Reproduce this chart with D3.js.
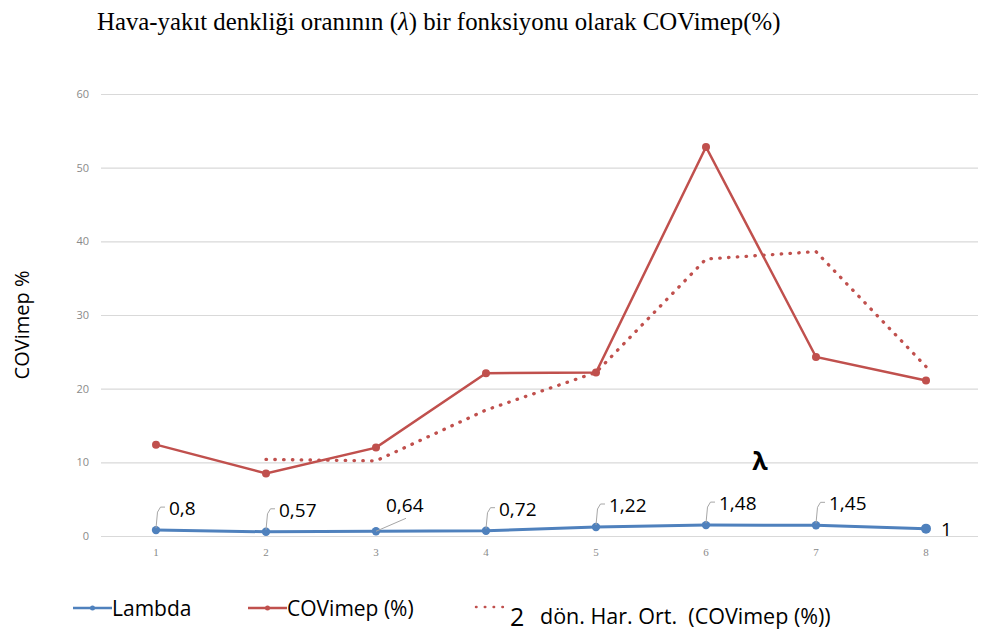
<!DOCTYPE html>
<html>
<head>
<meta charset="utf-8">
<script src="https://cdn.jsdelivr.net/npm/d3@7"></script>
<style>
  body { margin: 0; background: #fff; }
  #chart { width: 982px; height: 637px; }
  text { font-family: "Open Sans", "Liberation Sans", sans-serif; }
</style>
</head>
<body>
<div id="chart"></div>
<script>
/* DATA */
const categories = [1, 2, 3, 4, 5, 6, 7, 8];
const lambda = [0.8, 0.57, 0.64, 0.72, 1.22, 1.48, 1.45, 1];
const lambdaLabels = ["0,8", "0,57", "0,64", "0,72", "1,22", "1,48", "1,45", "1"];
const covimep = [12.4, 8.5, 12.0, 22.1, 22.2, 52.8, 24.3, 21.1];
const movingAvg = [null, 10.4, 10.2, 17.1, 22.2, 37.6, 38.6, 23.0];
const yTicks = [0, 10, 20, 30, 40, 50, 60];

const width = 982, height = 637;
const margin = {top: 94, left: 101, right: 1, bottom: 101};
const gridRight = 978;
const blue = "#4f81bd", red = "#c0504d";

const svg = d3.select("#chart")
    .append("svg")
    .attr("width", width)
    .attr("height", height);

/* SCALES */
const xScale = d3.scaleBand()
    .domain(categories)
    .range([margin.left, width - margin.right]);

const cx = function(d) { return xScale(d) + xScale.bandwidth() / 2; };

const yScale = d3.scaleLinear()
    .domain([0, 60])
    .range([height - margin.bottom, margin.top]);

/* TITLE */
const title = svg.append("text")
    .attr("x", 97)
    .attr("y", 30)
    .style("font-family", "'Liberation Serif', 'Times New Roman', serif")
    .style("font-size", "24.8px")
    .attr("fill", "#000");
title.append("tspan").text("Hava-yakıt denkliği oranının (");
title.append("tspan").style("font-style", "italic").text("λ");
title.append("tspan").text(") bir fonksiyonu olarak COVimep(%)");

/* GRID + Y AXIS */
const yAxis = svg.append("g")
    .attr("transform", `translate(${margin.left},0)`)
    .call(d3.axisLeft(yScale)
        .tickValues(yTicks)
        .tickSize(-(gridRight - margin.left))
        .tickPadding(12));
yAxis.select(".domain").remove();
yAxis.selectAll(".tick line").attr("stroke", "#d9d9d9").attr("stroke-width", 1.2);
yAxis.selectAll(".tick text")
    .attr("fill", "#8a8a8a")
    .style("font-size", "11px");

/* X AXIS */
const xAxis = svg.append("g")
    .attr("transform", `translate(0,${height - margin.bottom})`)
    .call(d3.axisBottom(xScale).tickSize(0).tickPadding(12));
xAxis.select(".domain").remove();
xAxis.selectAll(".tick text")
    .attr("fill", "#8a8a8a")
    .style("font-family", "'Liberation Serif', serif")
    .style("font-size", "11px");

/* Y AXIS LABEL */
svg.append("text")
    .attr("transform", "rotate(-90)")
    .attr("x", -325)
    .attr("y", 29)
    .attr("text-anchor", "middle")
    .style("font-size", "20px")
    .attr("fill", "#000")
    .text("COVimep %");

/* LINES */
const line = d3.line()
    .defined(function(d) { return d.v != null; })
    .x(function(d) { return cx(d.c); })
    .y(function(d) { return yScale(d.v); });

const zip = function(vals) {
    return categories.map(function(c, i) { return {c: c, v: vals[i], i: i}; });
};

svg.append("path")
    .datum(zip(movingAvg))
    .attr("d", line)
    .attr("fill", "none")
    .attr("stroke", red)
    .attr("stroke-width", 3.3)
    .attr("stroke-linecap", "round")
    .attr("stroke-dasharray", "0.5 8.3");

svg.append("path")
    .datum(zip(covimep))
    .attr("d", line)
    .attr("fill", "none")
    .attr("stroke", red)
    .attr("stroke-width", 2.5);

svg.selectAll("circle.cov")
    .data(zip(covimep))
    .enter()
    .append("circle")
        .attr("class", "cov")
        .attr("cx", function(d) { return cx(d.c); })
        .attr("cy", function(d) { return yScale(d.v); })
        .attr("r", 4)
        .attr("fill", red);

svg.append("path")
    .datum(zip(lambda))
    .attr("d", line)
    .attr("fill", "none")
    .attr("stroke", blue)
    .attr("stroke-width", 3);

svg.selectAll("circle.lam")
    .data(zip(lambda))
    .enter()
    .append("circle")
        .attr("class", "lam")
        .attr("cx", function(d) { return cx(d.c); })
        .attr("cy", function(d) { return yScale(d.v); })
        .attr("r", function(d) { return d.i === lambda.length - 1 ? 5 : 4.2; })
        .attr("fill", blue);

/* LAMBDA DATA LABELS WITH LEADER LINES */
const labels = svg.append("g");
zip(lambda).forEach(function(d) {
    const px = cx(d.c), py = yScale(d.v);
    const last = d.i === lambda.length - 1;
    if (last) {
        labels.append("text")
            .attr("x", px + 15).attr("y", py + 7)
            .style("font-size", "19px").attr("fill", "#000")
            .text(lambdaLabels[d.i]);
        return;
    }
    if (d.i === 2) {
        labels.append("path")
            .attr("d", `M${px},${py} L${px + 30},${py - 13}`)
            .attr("stroke", "#a6a6a6").attr("fill", "none").attr("stroke-width", 1);
        labels.append("text")
            .attr("x", px + 10).attr("y", py - 19)
            .style("font-size", "19px").attr("fill", "#000")
            .text(lambdaLabels[d.i]);
        return;
    }
    labels.append("path")
        .attr("d", `M${px},${py - 2} L${px + 1.5},${py - 18} L${px + 4.5},${py - 23} L${px + 9},${py - 23}`)
        .attr("stroke", "#a6a6a6").attr("fill", "none").attr("stroke-width", 1);
    labels.append("text")
        .attr("x", px + 13).attr("y", py - 15)
        .style("font-size", "19px").attr("fill", "#000")
        .text(lambdaLabels[d.i]);
});

/* LAMBDA SYMBOL */
svg.append("text")
    .attr("x", cx(6) + xScale.bandwidth() * 0.49)
    .attr("y", yScale(10) + 8)
    .attr("text-anchor", "middle")
    .style("font-size", "25px")
    .style("font-weight", "bold")
    .attr("fill", "#000")
    .text("λ");

/* LEGEND */
const legend = svg.append("g");
legend.append("line").attr("x1", 73).attr("x2", 112).attr("y1", 608).attr("y2", 608)
    .attr("stroke", blue).attr("stroke-width", 2.5);
legend.append("circle").attr("cx", 92.5).attr("cy", 608).attr("r", 2.5).attr("fill", blue);
legend.append("text").attr("x", 112).attr("y", 616)
    .style("font-size", "21px").attr("fill", "#000").text("Lambda");

legend.append("line").attr("x1", 248).attr("x2", 287).attr("y1", 608).attr("y2", 608)
    .attr("stroke", red).attr("stroke-width", 2.5);
legend.append("circle").attr("cx", 267.5).attr("cy", 608).attr("r", 2.5).attr("fill", red);
legend.append("text").attr("x", 287).attr("y", 616)
    .style("font-size", "21px").attr("fill", "#000").text("COVimep (%)");

legend.append("line").attr("x1", 476).attr("x2", 504).attr("y1", 607).attr("y2", 607)
    .attr("stroke", red).attr("stroke-width", 2.5)
    .attr("stroke-linecap", "round").attr("stroke-dasharray", "0.5 8.3");
legend.append("text").attr("x", 510).attr("y", 626)
    .style("font-size", "25px").attr("fill", "#000").text("2");
legend.append("text").attr("x", 540).attr("y", 624)
    .style("font-size", "21.5px").style("white-space", "pre").attr("fill", "#000")
    .text("dön. Har. Ort.  (COVimep (%))");
</script>
</body>
</html>
